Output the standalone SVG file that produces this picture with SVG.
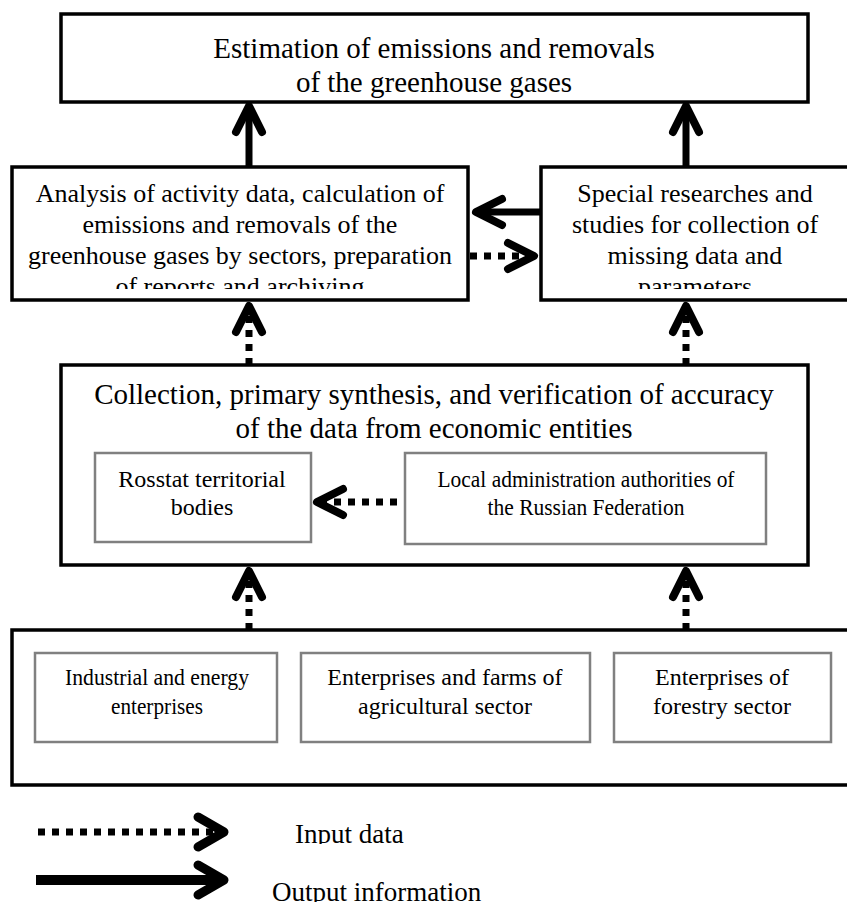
<svg xmlns="http://www.w3.org/2000/svg" width="847" height="914" viewBox="0 0 847 914">
<style>
.box{fill:#fff;stroke:#000;stroke-width:3.5}
.sub{fill:#fff;stroke:#808080;stroke-width:2.5}
text{font-family:"Liberation Serif","Times New Roman",serif;fill:#000;text-anchor:middle}
.t29{font-size:29px}
.t26{font-size:26px}
.t24{font-size:24px}
.leg{font-size:27px;text-anchor:start}
.solid{stroke:#000;stroke-width:7;fill:none}
.dot{stroke:#000;stroke-width:7;fill:none;stroke-dasharray:7 7}
</style>
<defs>
<marker id="head" markerUnits="userSpaceOnUse" viewBox="0 0 40 40" markerWidth="40" markerHeight="40" refX="34" refY="20" orient="auto">
<path d="M8,7 L34,20 L8,33" fill="none" stroke="#000" stroke-width="8" stroke-linecap="round" stroke-linejoin="round"/>
</marker>
<marker id="headL" markerUnits="userSpaceOnUse" viewBox="0 0 44 44" markerWidth="44" markerHeight="44" refX="36" refY="22" orient="auto">
<path d="M10,7 L36,22 L10,37" fill="none" stroke="#000" stroke-width="9" stroke-linecap="round" stroke-linejoin="round"/>
</marker>
<clipPath id="c2"><rect x="12" y="167" width="456" height="122"/></clipPath>
<clipPath id="c3"><rect x="541" y="167" width="306" height="122"/></clipPath>
<clipPath id="cIn"><rect x="250" y="800" width="300" height="44"/></clipPath>
<clipPath id="cOut"><rect x="250" y="855" width="300" height="47"/></clipPath>
</defs>

<g id="n-estimation">
<rect class="box" x="61" y="14" width="747" height="88"/>
<text class="t29" x="434" y="58">Estimation of emissions and removals</text>
<text class="t29" x="434" y="92">of the greenhouse gases</text>
</g>

<g id="n-analysis">
<rect class="box" x="12" y="167" width="456" height="133"/>
<g clip-path="url(#c2)">
<text class="t26" x="240" y="202">Analysis of activity data, calculation of</text>
<text class="t26" x="240" y="233">emissions and removals of the</text>
<text class="t26" x="240" y="264">greenhouse gases by sectors, preparation</text>
<text class="t26" x="240" y="295">of reports and archiving</text>
</g>
</g>

<g id="n-special">
<rect class="box" x="541" y="167" width="308" height="133"/>
<g clip-path="url(#c3)">
<text class="t26" x="695" y="202">Special researches and</text>
<text class="t26" x="695" y="233">studies for collection of</text>
<text class="t26" x="695" y="264">missing data and</text>
<text class="t26" x="695" y="295">parameters</text>
</g>
</g>

<g id="n-collection">
<rect class="box" x="61" y="365" width="747" height="200"/>
<text class="t29" x="434" y="404">Collection, primary synthesis, and verification of accuracy</text>
<text class="t29" x="434" y="438">of the data from economic entities</text>
</g>

<g id="n-rosstat">
<rect class="sub" x="95" y="453" width="216" height="89"/>
<text class="t24" x="202" y="487">Rosstat territorial</text>
<text class="t24" x="202" y="515">bodies</text>
</g>

<g id="n-local">
<rect class="sub" x="405" y="453" width="361" height="91"/>
<text class="t24" x="586" y="487" textLength="297" lengthAdjust="spacingAndGlyphs">Local administration authorities of</text>
<text class="t24" x="586" y="515" textLength="197" lengthAdjust="spacingAndGlyphs">the Russian Federation</text>
</g>

<g id="n-activity">
<rect class="box" x="12" y="630" width="850" height="155"/>
</g>

<g id="n-industrial">
<rect class="sub" x="35" y="653" width="242" height="89"/>
<text class="t24" x="157" y="685" textLength="184" lengthAdjust="spacingAndGlyphs">Industrial and energy</text>
<text class="t24" x="157" y="714" textLength="92" lengthAdjust="spacingAndGlyphs">enterprises</text>
</g>

<g id="n-agri">
<rect class="sub" x="301" y="653" width="289" height="89"/>
<text class="t24" x="445" y="685">Enterprises and farms of</text>
<text class="t24" x="445" y="714">agricultural sector</text>
</g>

<g id="n-forestry">
<rect class="sub" x="614" y="653" width="217" height="89"/>
<text class="t24" x="722" y="685">Enterprises of</text>
<text class="t24" x="722" y="714">forestry sector</text>
</g>

<g id="connectors">
<line class="solid" x1="249" y1="167" x2="249" y2="106" marker-end="url(#head)"/>
<line class="solid" x1="686" y1="167" x2="686" y2="106" marker-end="url(#head)"/>
<line class="solid" x1="541" y1="212" x2="476" y2="212" marker-end="url(#head)"/>
<line class="dot" x1="470" y1="256" x2="534" y2="256" marker-end="url(#head)"/>
<line class="dot" x1="249" y1="365" x2="249" y2="306" marker-end="url(#head)"/>
<line class="dot" x1="686" y1="365" x2="686" y2="306" marker-end="url(#head)"/>
<line class="dot" x1="397" y1="502" x2="317" y2="502" marker-end="url(#head)"/>
<line class="dot" x1="249" y1="630" x2="249" y2="571" marker-end="url(#head)"/>
<line class="dot" x1="686" y1="630" x2="686" y2="571" marker-end="url(#head)"/>
</g>

<g id="legend">
<line class="dot" x1="38" y1="832" x2="224" y2="832" marker-end="url(#headL)"/>
<line class="solid" style="stroke-width:10" x1="36" y1="880" x2="224" y2="880" marker-end="url(#headL)"/>
<text class="leg" x="295" y="843" clip-path="url(#cIn)">Input data</text>
<text class="leg" x="272" y="901" clip-path="url(#cOut)">Output information</text>
</g>
</svg>
